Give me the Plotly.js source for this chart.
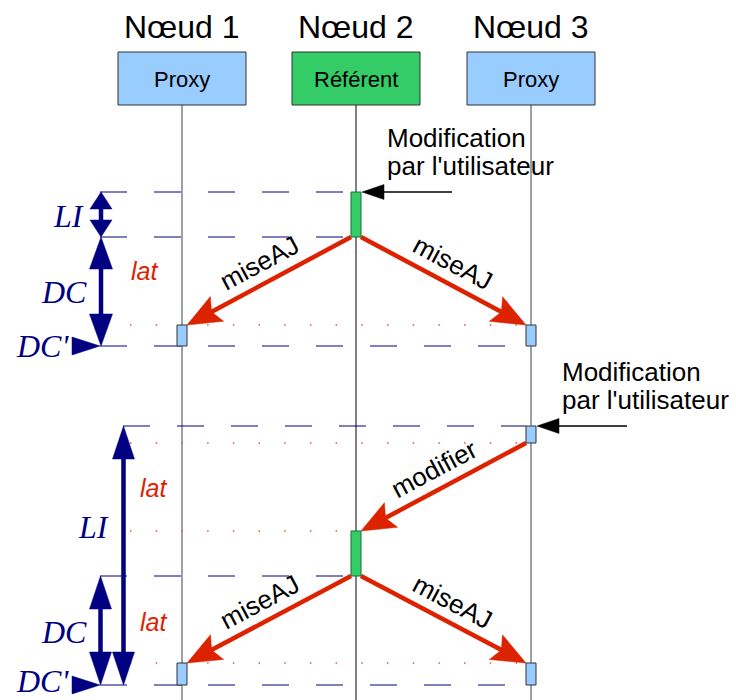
<!DOCTYPE html>
<html>
<head>
<meta charset="utf-8">
<script src="https://cdn.plot.ly/plotly-3.0.1.min.js"></script>
<style>html,body{margin:0;padding:0;background:#fff}#chart{width:736px;height:700px}</style>
</head>
<body>
<div id="chart"></div>
<script>
// ---------------- DATA ----------------
const nodeNames = ['Nœud 1', 'Nœud 2', 'Nœud 3'];
const nodeRoles = ['Proxy', 'Référent', 'Proxy'];
// user modifications (time, node)
const userModTime = [192, 426];
const userModNode = [1, 2];
// messages
const msgLabel = ['miseAJ', 'miseAJ', 'modifier', 'miseAJ', 'miseAJ'];
const msgFrom = [1, 1, 2, 1, 1];
const msgTo = [0, 2, 1, 0, 2];
const msgSend = [237, 237, 443, 576, 576];
const msgRecv = [325, 325, 531, 663, 663];
// activation boxes
const actNode = [1, 0, 2, 2, 1, 0, 2];
const actStart = [192, 325, 325, 426, 531, 663, 663];
const actEnd = [237, 346, 346, 443, 576, 685, 685];
// reference levels
const dashLevels = [192, 237, 346, 426, 576, 685];
const dotLevels = [325, 443, 531, 663];
// measured intervals
const intervalLabel = ['LI', 'DC', 'LI', 'DC'];
const intervalStart = [192, 237, 426, 576];
const intervalEnd = [237, 346, 685, 685];
const dcPrimeTime = [346, 685];
const latMsg = [0, 2, 3];

// ---------------- LAYOUT CONSTANTS ----------------
const LANE_X = [182, 356, 531];
const ACT_HW = 5;
const NAVY = '#000080';
const RED = '#dd2200';
const SANS = 'Liberation Sans, Arial, sans-serif';
const SERIF = 'Liberation Serif, Times New Roman, serif';
const roleFill = {'Proxy': '#99ccff', 'Référent': '#33cc66'};
const roleLine = {'Proxy': '#333333', 'Référent': '#1d6b37'};

const shapes = [];
const annotations = [];

function line(x0, y0, x1, y1, color, width, dash) {
  shapes.push({type: 'line', xref: 'x', yref: 'y', x0, y0, x1, y1,
    line: {color, width, dash: dash || 'solid'}, layer: 'above'});
}
function rect(x0, y0, x1, y1, fill, lc, lw) {
  shapes.push({type: 'rect', xref: 'x', yref: 'y', x0, y0, x1, y1,
    fillcolor: fill, line: {color: lc, width: lw}, layer: 'above'});
}
function head(tx, ty, fx, fy, len, hw, color, notch) {
  const dx = tx - fx, dy = ty - fy, L = Math.hypot(dx, dy);
  const ux = dx / L, uy = dy / L, nx = -uy, ny = ux;
  const bx = tx - ux * len, by = ty - uy * len;
  const mx = tx - ux * len * (notch || 1), my = ty - uy * len * (notch || 1);
  const p = `M${tx},${ty} L${bx + nx * hw},${by + ny * hw} L${mx},${my} L${bx - nx * hw},${by - ny * hw} Z`;
  shapes.push({type: 'path', xref: 'x', yref: 'y', path: p, fillcolor: color,
    line: {color, width: 0.5}, layer: 'above'});
  return [tx - ux * len * 0.75, ty - uy * len * 0.75];
}
function text(x, y, t, size, color, family, opts) {
  annotations.push(Object.assign({xref: 'x', yref: 'y', x, y, text: t, showarrow: false,
    font: {size, color, family}, xanchor: 'center', yanchor: 'middle'}, opts || {}));
}

// headers, boxes and lifelines
nodeNames.forEach((n, i) => {
  const x = LANE_X[i];
  text(x, 27, n, 32, '#000', SANS);
  line(x, 105, x, 700, i === 1 ? '#000000' : '#808080', i === 1 ? 1 : 1.5);
  rect(x - 64, 52, x + 64, 105, roleFill[nodeRoles[i]], '#333', 1);
  text(x, 79, nodeRoles[i], 22, '#000', SANS);
});

// dashed reference levels (navy)
dashLevels.forEach((t) => {
  const x0 = t === 426 ? 123 : 100;
  const toNode2 = (t === 192 || t === 237 || t === 576);
  const x1 = toNode2 ? LANE_X[1] - ACT_HW : LANE_X[2] - ACT_HW;
  line(x0, t, x1, t, NAVY, 1, '27px,27px');
});
// dotted red levels
dotLevels.forEach((t) => {
  const x1 = t === 531 ? LANE_X[1] - ACT_HW : LANE_X[2] - ACT_HW;
  line(130, t, x1, t, '#ee5533', 1.5, '1.5px,24.2px');
});

// user modification arrows + text
userModTime.forEach((t, k) => {
  const xl = LANE_X[userModNode[k]] + ACT_HW + 1;
  const xr = xl + 90;
  const b = head(xl, t, xr, t, 22, 7.5, '#000');
  line(xr, t, b[0], t, '#000', 1.3);
  const tx = xl + 23;
  text(tx, t - 54, 'Modification', 26, '#000', SANS, {xanchor: 'left'});
  text(tx, t - 26, "par l'utilisateur", 26, '#000', SANS, {xanchor: 'left'});
});

// messages
msgLabel.forEach((lab, i) => {
  const xf = LANE_X[msgFrom[i]], xt = LANE_X[msgTo[i]];
  const s = Math.sign(xt - xf);
  const x0 = xf + s * ACT_HW, y0 = msgSend[i];
  const x1 = xt - s * ACT_HW, y1 = msgRecv[i];
  const b = head(x1, y1, x0, y0, 34, 14, RED, 0.82);
  line(x0, y0, b[0], b[1], RED, 4.5);
  // label
  const lx = Math.min(x0, x1), rx = Math.max(x0, x1);
  const ly = x0 < x1 ? y0 : y1, ry = x0 < x1 ? y1 : y0;
  const ang = Math.atan2(ry - ly, rx - lx) * 180 / Math.PI;
  const dx = rx - lx, dy = ry - ly, L = Math.hypot(dx, dy);
  let nx = dy / L, ny = -dx / L;
  if (ny > 0) { nx = -nx; ny = -ny; }
  const off = 20;
  text((x0 + x1) / 2 + nx * off, (y0 + y1) / 2 + ny * off, lab, 26, '#000', SANS, {textangle: ang});
});

// activation boxes
actNode.forEach((n, i) => {
  const role = nodeRoles[n];
  rect(LANE_X[n] - ACT_HW, actStart[i], LANE_X[n] + ACT_HW, actEnd[i], roleFill[role], roleLine[role], 1);
});

// lat labels
const latX = [144, 153, 153];
const latShift = [-10, 1, 2];
latMsg.forEach((m, k) => {
  text(latX[k], (msgSend[m] + msgRecv[m]) / 2 + latShift[k], 'lat', 25, RED, SANS, {font: {size: 25, color: RED, family: SANS, style: 'italic'}});
});

// interval double arrows
const intervalX = [101, 101, 123.5, 100.5];
const intervalHead = [[17, 11], [32, 11.5], [33, 11], [33, 11]];
const intervalLabelPos = [[68, 216], [64, 292], [93, 527], [64, 632]];
intervalLabel.forEach((lab, i) => {
  const x = intervalX[i];
  const [hl, hw] = intervalHead[i];
  const a = head(x, intervalStart[i], x, intervalEnd[i], hl, hw, NAVY);
  const b = head(x, intervalEnd[i], x, intervalStart[i], hl, hw, NAVY);
  line(x, a[1], x, b[1], NAVY, 4.5);
  text(intervalLabelPos[i][0], intervalLabelPos[i][1], lab, 32, NAVY, SERIF,
    {font: {size: 32, color: NAVY, family: SERIF, style: 'italic'}});
});
// DC' markers
dcPrimeTime.forEach((t) => {
  head(100, t, 72, t, 28, 9, NAVY);
  text(42, Math.min(t, 681), "DC'", 32, NAVY, SERIF, {height: 30, font: {size: 32, color: NAVY, family: SERIF, style: 'italic'}});
});

const layout = {
  width: 736, height: 700,
  margin: {l: 0, r: 0, t: 0, b: 0},
  paper_bgcolor: '#ffffff', plot_bgcolor: '#ffffff',
  showlegend: false,
  xaxis: {range: [0, 736], visible: false, fixedrange: true},
  yaxis: {range: [700, 0], visible: false, fixedrange: true},
  shapes, annotations
};
Plotly.newPlot('chart', [{x: [], y: [], type: 'scatter', mode: 'markers'}], layout, {staticPlot: true});
</script>
</body>
</html>
